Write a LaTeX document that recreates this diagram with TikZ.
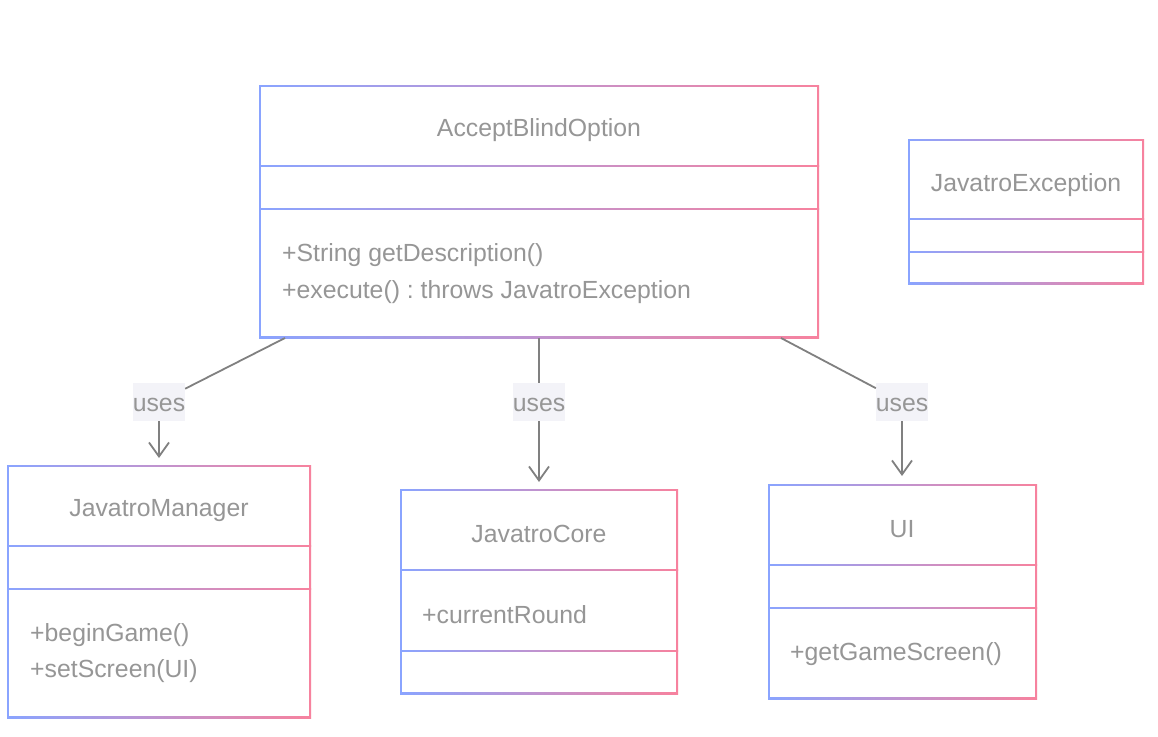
\documentclass[tikz,border=0pt]{standalone}
\usepackage{fontspec}
\setmainfont{Liberation Sans}
\frenchspacing
\usetikzlibrary{arrows.meta}
\definecolor{cblue}{RGB}{138,164,255}
\definecolor{cpink}{RGB}{247,130,158}
\definecolor{ctext}{RGB}{150,150,150}
\definecolor{cline}{RGB}{128,128,128}
\definecolor{clabel}{RGB}{243,243,248}
\newcommand{\gradbox}[1]{%
  \shade[left color=cblue,right color=cpink] (#1.south west) rectangle (#1.north east);
  \fill[white] ([shift={(2,2)}]#1.north west) rectangle ([shift={(-2,-2)}]#1.south east);}
\newcommand{\divider}[2]{%
  \path (#1.west |- 0,#2) coordinate (dl) (#1.east |- 0,#2) coordinate (dr);
  \shade[left color=cblue,right color=cpink] ([yshift=0.8pt]dl) rectangle ([yshift=-0.8pt]dr);}
\begin{document}
\begin{tikzpicture}[x=1pt,y=-1pt,
  boxarea/.style={inner sep=0pt,outer sep=0pt,minimum width=#1},
  title/.style={text=ctext,font=\fontsize{24.8}{29}\selectfont,anchor=center,yshift=-2pt},
  member/.style={text=ctext,font=\fontsize{24.8}{29}\selectfont,anchor=west,inner sep=0pt,yshift=-2pt},
  uselabel/.style={fill=clabel,text=ctext,font=\fontsize{24.8}{29}\selectfont,minimum width=52pt,minimum height=38pt,inner sep=0pt,outer sep=0pt,text height=18pt,text depth=0pt},
  conn/.style={draw=cline,line width=1.8pt},
  arr/.style={conn,-{Straight Barb[length=14pt,width=20pt,line width=1.8pt]}}]
\useasboundingbox (0,0) rectangle (1158,736);
\fill[white] (0,0) rectangle (1158,736);

% class box areas
\node[boxarea=560pt,minimum height=253pt] (A) at (539,211.5) {};
\node[boxarea=236pt,minimum height=145pt] (E) at (1026,211.5) {};
\node[boxarea=304pt,minimum height=253pt] (M) at (159,591.5) {};
\node[boxarea=278pt,minimum height=205pt] (C) at (539,591.5) {};
\node[boxarea=269pt,minimum height=215pt] (U) at (902.5,591.5) {};

\gradbox{A}\gradbox{E}\gradbox{M}\gradbox{C}\gradbox{U}
\divider{A}{166}\divider{A}{209}
\divider{E}{219}\divider{E}{252}
\divider{M}{546}\divider{M}{589}
\divider{C}{570}\divider{C}{651}
\divider{U}{565}\divider{U}{608}

% texts
\node[title] (At) at (539,128) {AcceptBlindOption};
\node[member] (Am1) at (282,253) {+String getDescription()};
\node[member] (Am2) at (282,290) {+execute() : throws JavatroException};
\node[title] (Et) at (1026,183) {JavatroException};
\node[title] (Mt) at (159,509) {JavatroManager};
\node[member] (Mm1) at (30,633) {+beginGame()};
\node[member] (Mm2) at (30,669) {+setScreen(UI)};
\node[title] (Ct) at (539,532) {JavatroCore};
\node[member] (Ca1) at (422,613) {+currentRound};
\node[title] (Ut) at (902,527) {UI};
\node[member] (Um1) at (790,652) {+getGameScreen()};

% labels
\node[uselabel] (L1) at (159,402) {uses};
\node[uselabel] (L2) at (539,402) {uses};
\node[uselabel] (L3) at (902,402) {uses};

\coordinate (a1) at (285,338);
\coordinate (a3) at (781,338);

\draw[conn] (a1) -- (L1);
\draw[conn] (A.south) -- (L2);
\draw[conn] (a3) -- (L3);
\draw[arr,shorten >=7pt] (L1.south) -- (M.north);
\draw[arr,shorten >=7pt] (L2.south) -- (C.north);
\draw[arr,shorten >=8pt] (L3.south) -- (U.north -| L3.south);
\end{tikzpicture}
\end{document}
